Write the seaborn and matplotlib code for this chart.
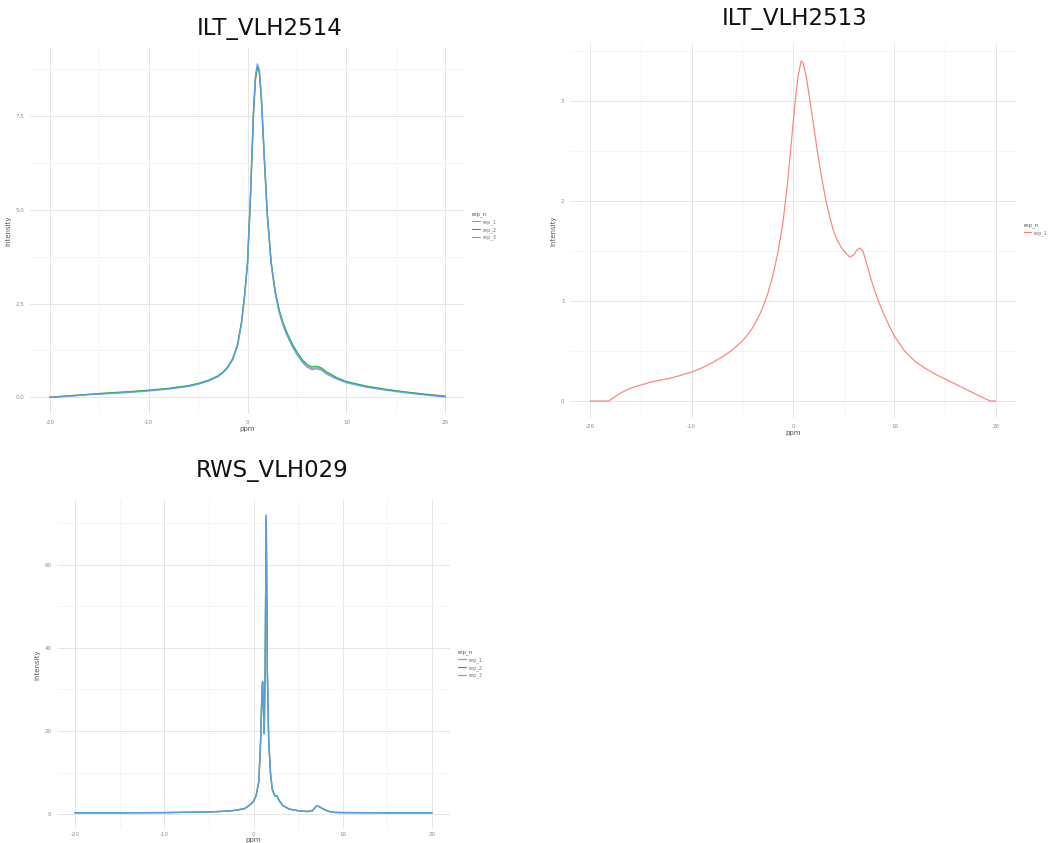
import numpy as np
import pandas as pd
import matplotlib
matplotlib.use("Agg")
import matplotlib.pyplot as plt
import seaborn as sns

sns.set_theme(style="white")
plt.rcParams['font.family'] = ['DejaVu Sans']

# ---------------- ILT_VLH2514 (three replicates) ----------------
ppm_2514 = [-20, -18, -16, -14, -12, -10, -8, -6, -5, -4, -3, -2.5, -2, -1.5, -1,
            -0.6, -0.3, 0, 0.3, 0.6, 0.8, 1.0, 1.2, 1.4, 1.7, 2.0, 2.4, 2.8, 3.2,
            3.6, 4.0, 4.5, 5.0, 5.5, 6.0, 6.5, 7.0, 7.5, 8.0, 9, 10, 12, 14, 16, 18, 20]
int_2514_rep1 = [0.0, 0.04, 0.08, 0.11, 0.14, 0.18, 0.23, 0.30, 0.36, 0.44, 0.56, 0.66,
                 0.80, 1.02, 1.40, 2.00, 2.70, 3.55, 5.30, 7.50, 8.45, 8.82, 8.65, 7.95,
                 6.35, 4.85, 3.55, 2.80, 2.30, 1.95, 1.68, 1.40, 1.17, 0.98, 0.84, 0.77,
                 0.79, 0.75, 0.65, 0.51, 0.41, 0.29, 0.21, 0.14, 0.08, 0.03]
int_2514_rep2 = [0.0, 0.04, 0.08, 0.12, 0.15, 0.19, 0.24, 0.31, 0.37, 0.45, 0.57, 0.67,
                 0.81, 1.03, 1.42, 2.02, 2.72, 3.58, 5.35, 7.55, 8.50, 8.85, 8.68, 8.00,
                 6.40, 4.90, 3.60, 2.84, 2.34, 1.99, 1.72, 1.44, 1.21, 1.02, 0.88, 0.81,
                 0.83, 0.78, 0.68, 0.53, 0.42, 0.30, 0.21, 0.14, 0.08, 0.03]
int_2514_rep3 = [0.0, 0.03, 0.07, 0.10, 0.13, 0.17, 0.22, 0.29, 0.35, 0.43, 0.55, 0.65,
                 0.79, 1.00, 1.38, 1.98, 2.68, 3.60, 5.40, 7.62, 8.58, 8.90, 8.74, 8.05,
                 6.42, 4.88, 3.55, 2.78, 2.27, 1.92, 1.65, 1.37, 1.14, 0.95, 0.81, 0.74,
                 0.76, 0.72, 0.62, 0.49, 0.39, 0.27, 0.19, 0.12, 0.06, 0.01]

# ---------------- ILT_VLH2513 (one replicate) ----------------
ppm_2513 = [-20, -19, -18.2, -17.6, -17, -16, -15, -14, -13, -12, -11, -10, -9, -8, -7,
            -6, -5, -4.5, -4, -3.5, -3, -2.5, -2, -1.5, -1, -0.6, -0.2, 0.2, 0.5, 0.8,
            1.0, 1.3, 1.6, 2.0, 2.4, 2.8, 3.2, 3.6, 4.0, 4.4, 4.8, 5.2, 5.6, 6.0, 6.3,
            6.6, 6.9, 7.2, 7.6, 8.0, 8.5, 9, 9.5, 10, 11, 12, 13, 14, 15, 16, 17, 18,
            19, 19.5, 20]
int_2513_rep1 = [0.0, 0.0, 0.0, 0.04, 0.08, 0.13, 0.16, 0.19, 0.21, 0.23, 0.26, 0.29,
                 0.33, 0.38, 0.44, 0.51, 0.60, 0.66, 0.73, 0.82, 0.93, 1.07, 1.25, 1.48,
                 1.78, 2.12, 2.55, 2.98, 3.25, 3.40, 3.38, 3.25, 3.05, 2.78, 2.50, 2.25,
                 2.03, 1.85, 1.70, 1.60, 1.53, 1.48, 1.44, 1.46, 1.51, 1.53, 1.50, 1.40,
                 1.25, 1.12, 0.98, 0.86, 0.75, 0.65, 0.50, 0.40, 0.33, 0.27, 0.22, 0.17,
                 0.12, 0.07, 0.02, 0.0, 0.0]

# ---------------- RWS_VLH029 (three replicates) ----------------
ppm_029 = [-20, -15, -10, -5, -3, -2, -1, -0.5, 0, 0.3, 0.6, 0.8, 0.95, 1.02, 1.1,
           1.2, 1.3, 1.38, 1.42, 1.47, 1.55, 1.7, 1.9, 2.1, 2.4, 2.6, 2.9, 3.3, 4, 5,
           6, 6.6, 6.9, 7.1, 7.5, 8, 8.5, 9, 10, 15, 20]
int_029_rep1 = [0.3, 0.3, 0.35, 0.5, 0.7, 0.9, 1.3, 2.0, 3.0, 4.4, 7.8, 17.5, 29.5, 31.5,
                25.5, 19.3, 34.0, 58.0, 70.0, 58.5, 34.0, 17.5, 9.8, 5.9, 4.2, 4.4, 3.1,
                2.0, 1.2, 0.8, 0.6, 0.8, 1.6, 2.0, 1.6, 1.0, 0.6, 0.4, 0.35, 0.3, 0.3]
int_029_rep2 = [0.3, 0.3, 0.35, 0.5, 0.7, 0.9, 1.3, 2.1, 3.1, 4.5, 7.9, 17.8, 30.0, 31.8,
                25.8, 19.4, 34.5, 59.0, 71.0, 59.0, 34.5, 17.8, 9.9, 6.0, 4.3, 4.5, 3.2,
                2.0, 1.2, 0.8, 0.6, 0.8, 1.6, 2.0, 1.6, 1.0, 0.6, 0.4, 0.35, 0.3, 0.3]
int_029_rep3 = [0.3, 0.3, 0.35, 0.5, 0.7, 0.9, 1.3, 2.0, 3.0, 4.5, 8.0, 18.0, 30.0, 32.0,
                26.0, 19.5, 35.0, 60.0, 72.0, 60.0, 35.0, 18.0, 10.0, 6.0, 4.3, 4.5, 3.2,
                2.0, 1.2, 0.8, 0.6, 0.8, 1.6, 2.0, 1.6, 1.0, 0.6, 0.4, 0.35, 0.3, 0.3]

rep_labels = ["rep_1", "rep_2", "rep_3"]
rep_colors = {"rep_1": "#F8766D", "rep_2": "#00BA38", "rep_3": "#619CFF"}

W, H = 1049, 843
fig = plt.figure(figsize=(W / 100, H / 100), dpi=100)
fig.patch.set_facecolor("white")


def long_frame(ppm, series):
    rows = []
    for lab, vals in series:
        rows.append(pd.DataFrame({"ppm": ppm, "Intensity": vals, "rep_n": lab}))
    return pd.concat(rows, ignore_index=True)


def px_axes(left, top, right, bottom):
    return fig.add_axes([left / W, 1 - bottom / H, (right - left) / W, (bottom - top) / H])


def style_axes(ax, ymajor, yminor, ylim, yfmt, xpad=4, xlabelpad=1):
    ax.set_xlim(-22, 22)
    ax.set_ylim(*ylim)
    ax.set_xticks([-20, -10, 0, 10, 20])
    ax.set_xticks([-15, -5, 5, 15], minor=True)
    ax.set_yticks(ymajor)
    ax.set_yticks(yminor, minor=True)
    ax.set_yticklabels([yfmt(v) for v in ymajor])
    ax.set_xticklabels([str(v) for v in [-20, -10, 0, 10, 20]])
    ax.grid(which="major", color="#e6e6e6", linewidth=0.7)
    ax.grid(which="minor", color="#f2f2f2", linewidth=0.5)
    ax.set_axisbelow(True)
    for s in ax.spines.values():
        s.set_visible(False)
    ax.tick_params(axis="both", which="both", length=0, labelsize=4, colors="#8a8a8a", pad=4)
    ax.tick_params(axis="x", pad=xpad)
    ax.set_xlabel("ppm", fontsize=5, color="#555555", labelpad=xlabelpad)
    ax.set_ylabel("Intensity", fontsize=5, color="#555555", labelpad=3)
    ax.set_facecolor("white")


def legend_at(ax, x, y, labels, handlelength=1.6):
    handles = [plt.Line2D([], [], color=rep_colors[l], lw=0.8) for l in labels]
    leg = ax.legend(handles, labels, title="rep_n", loc="upper left",
                    bbox_to_anchor=(x / W, 1 - y / H), bbox_transform=fig.transFigure,
                    frameon=False, fontsize=3.6, title_fontsize=4,
                    handlelength=handlelength, handletextpad=0.5, labelspacing=0.45,
                    borderpad=0, borderaxespad=0, alignment="left")
    leg.get_title().set_color("#555555")
    for t in leg.get_texts():
        t.set_color("#777777")


# Panel: ILT_VLH2514
ax1 = px_axes(30, 47, 465, 414)
df1 = long_frame(ppm_2514, [("rep_1", int_2514_rep1), ("rep_2", int_2514_rep2),
                            ("rep_3", int_2514_rep3)])
sns.lineplot(data=df1, x="ppm", y="Intensity", hue="rep_n", palette=rep_colors,
             hue_order=rep_labels, linewidth=1.0, alpha=0.85, ax=ax1, legend=False)
style_axes(ax1, [0, 2.5, 5.0, 7.5], [1.25, 3.75, 6.25, 8.75], (-0.445, 9.35),
           lambda v: f"{v:.1f}")
legend_at(ax1, 472, 211, rep_labels)
fig.text(270 / W, 1 - 28 / H, "ILT_VLH2514", ha="center", va="center", fontsize=16.5,
         color="#111111")

# Panel: ILT_VLH2513
ax2 = px_axes(570, 43, 1016, 418)
df2 = long_frame(ppm_2513, [("rep_1", int_2513_rep1)])
sns.lineplot(data=df2, x="ppm", y="Intensity", hue="rep_n", palette=rep_colors,
             hue_order=["rep_1"], linewidth=0.9, alpha=0.85, ax=ax2, legend=False)
style_axes(ax2, [0, 1, 2, 3], [0.5, 1.5, 2.5, 3.5], (-0.17, 3.58), lambda v: f"{v:d}")
legend_at(ax2, 1024, 222, ["rep_1"], handlelength=1.3)
fig.text(795 / W, 1 - 18 / H, "ILT_VLH2513", ha="center", va="center", fontsize=16.5,
         color="#111111")

# Panel: RWS_VLH029
ax3 = px_axes(57, 500, 450, 829)
df3 = long_frame(ppm_029, [("rep_1", int_029_rep1), ("rep_2", int_029_rep2),
                           ("rep_3", int_029_rep3)])
sns.lineplot(data=df3, x="ppm", y="Intensity", hue="rep_n", palette=rep_colors,
             hue_order=rep_labels, linewidth=1.0, alpha=0.85, ax=ax3, legend=False)
style_axes(ax3, [0, 20, 40, 60], [10, 30, 50, 70], (-3.6, 75.6), lambda v: f"{v:d}",
           xpad=2, xlabelpad=0)
legend_at(ax3, 458, 649, rep_labels)
fig.text(272 / W, 1 - 470 / H, "RWS_VLH029", ha="center", va="center", fontsize=16.5,
         color="#111111")

fig.savefig("out.png", dpi=100, facecolor="white")
